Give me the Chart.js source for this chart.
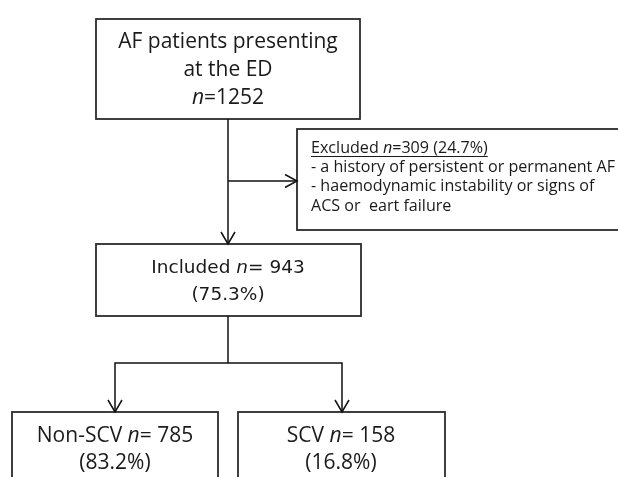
<!DOCTYPE html>
<html>
<head>
<meta charset="utf-8">
<script src="https://cdn.jsdelivr.net/npm/chart.js@4/dist/chart.umd.min.js"></script>
<style>
html, body { margin: 0; padding: 0; background: #fff; }
canvas { display: block; }
</style>
</head>
<body>
<canvas id="flujo" width="618" height="477"></canvas>
<script>
// numeros de la cohorte
var etapas = ['AF patients presenting', 'Excluded', 'Included', 'Non-SCV', 'SCV'];
var pacientes = [1252, 309, 943, 785, 158];
var porcentajes = [null, '24.7%', '75.3%', '83.2%', '16.8%'];
var subtitulo = 'at the ED';
var motivosExclusion = [
    '- a history of persistent or permanent AF',
    '- haemodynamic instability or signs of',
    'ACS or  eart failure'
];

// posicion de las cajas (unidades de la escala, 0..618 x 0..477)
var cajas = {
    inicio:    { x0: 96,  y0: 19,  x1: 360, y1: 119 },
    excluidos: { x0: 297, y0: 129, x1: 630, y1: 230 },
    incluidos: { x0: 96,  y0: 244, x1: 361, y1: 316 },
    noScv:     { x0: 12,  y0: 412, x1: 218, y1: 495 },
    scv:       { x0: 238, y0: 412, x1: 445, y1: 495 }
};

var CALIBRI = '"Open Sans", "Noto Sans", sans-serif';
var SEGOE = '"DejaVu Sans", sans-serif';

function textoRico(ctx, partes, x, y, size, familia, alinear) {
    var total = 0;
    partes.forEach(p => {
        ctx.font = (p.i ? 'italic ' : '') + size + 'px ' + familia;
        p.w = ctx.measureText(p.t).width;
        total += p.w;
    });
    var cx = alinear === 'left' ? x : x - total / 2;
    var inicio = cx;
    ctx.textAlign = 'left';
    ctx.textBaseline = 'alphabetic';
    partes.forEach(p => {
        ctx.font = (p.i ? 'italic ' : '') + size + 'px ' + familia;
        ctx.fillText(p.t, cx, y);
        cx += p.w;
    });
    return { x: inicio, w: total };
}

var dibujarFlujo = {
    id: 'dibujarFlujo',
    afterDraw: function(chart) {
        var ctx = chart.ctx;
        var sx = chart.scales.x, sy = chart.scales.y;
        var px = v => sx.getPixelForValue(v);
        var py = v => sy.getPixelForValue(v);

        ctx.save();
        // cajas
        ctx.strokeStyle = '#2b2b2b';
        ctx.lineWidth = 1.8;
        Object.keys(cajas).forEach(k => {
            var c = cajas[k];
            ctx.strokeRect(px(c.x0), py(c.y0), px(c.x1) - px(c.x0), py(c.y1) - py(c.y0));
        });

        // conectores
        var xc = 228;
        ctx.strokeStyle = '#111';
        ctx.lineWidth = 1.5;
        function linea(pts) {
            ctx.beginPath();
            ctx.moveTo(px(pts[0][0]), py(pts[0][1]));
            for (var i = 1; i < pts.length; i++) ctx.lineTo(px(pts[i][0]), py(pts[i][1]));
            ctx.stroke();
        }
        function flechaAbajo(x, y) {
            linea([[x - 7, y - 12], [x, y], [x + 7, y - 12]]);
        }
        function flechaDerecha(x, y) {
            linea([[x - 12, y - 6.5], [x, y], [x - 12, y + 6.5]]);
        }
        linea([[xc, cajas.inicio.y1], [xc, cajas.incluidos.y0]]);
        flechaAbajo(xc, cajas.incluidos.y0);
        linea([[xc, 181], [cajas.excluidos.x0, 181]]);
        flechaDerecha(cajas.excluidos.x0, 181);

        var xIzq = 115, xDer = 342, yRama = 363;
        linea([[xc, cajas.incluidos.y1], [xc, yRama]]);
        linea([[xIzq, cajas.noScv.y0], [xIzq, yRama], [xDer, yRama], [xDer, cajas.scv.y0]]);
        flechaAbajo(xIzq, cajas.noScv.y0);
        flechaAbajo(xDer, cajas.scv.y0);

        // textos
        ctx.fillStyle = '#1a1a1a';
        var tam = 21;
        textoRico(ctx, [{ t: etapas[0] }], px(228), py(48), tam, CALIBRI);
        textoRico(ctx, [{ t: subtitulo }], px(228), py(76), tam, CALIBRI);
        textoRico(ctx, [{ t: 'n', i: true }, { t: '=' + pacientes[0] }], px(228), py(104), tam, CALIBRI);

        // excluidos
        var tamE = 16.1;
        var r = textoRico(ctx, [{ t: etapas[1] + ' ' }, { t: 'n', i: true }, { t: '=' + pacientes[1] + ' (' + porcentajes[1] + ')' }],
            px(311), py(153), tamE, CALIBRI, 'left');
        ctx.lineWidth = 1;
        ctx.strokeStyle = '#1a1a1a';
        ctx.beginPath();
        ctx.moveTo(r.x, py(156.5));
        ctx.lineTo(r.x + r.w, py(156.5));
        ctx.stroke();
        motivosExclusion.forEach((m, i) => {
            textoRico(ctx, [{ t: m }], px(311), py(172 + i * 19.3), tamE, CALIBRI, 'left');
        });

        // incluidos
        textoRico(ctx, [{ t: etapas[2] + ' ' }, { t: 'n', i: true }, { t: '= ' + pacientes[2] }], px(228), py(273), 18.5, SEGOE);
        textoRico(ctx, [{ t: '(' + porcentajes[2] + ')' }], px(228), py(300), 18.5, SEGOE);

        // ramas
        textoRico(ctx, [{ t: etapas[3] + ' ' }, { t: 'n', i: true }, { t: '= ' + pacientes[3] }], px(115), py(442), tam, CALIBRI);
        textoRico(ctx, [{ t: '(' + porcentajes[3] + ')' }], px(115), py(469), tam, CALIBRI);
        textoRico(ctx, [{ t: etapas[4] + ' ' }, { t: 'n', i: true }, { t: '= ' + pacientes[4] }], px(341), py(442), tam, CALIBRI);
        textoRico(ctx, [{ t: '(' + porcentajes[4] + ')' }], px(341), py(469), tam, CALIBRI);
        ctx.restore();
    }
};

var ctx = document.getElementById('flujo').getContext('2d');
var grafica = new Chart(ctx, {
    type: 'scatter',
    data: {
        datasets: [{
            label: 'etapas',
            data: [],
            pointRadius: 0
        }]
    },
    options: {
        responsive: false,
        animation: false,
        layout: { padding: 0 },
        plugins: {
            legend: { display: false },
            tooltip: { enabled: false }
        },
        scales: {
            x: { type: 'linear', min: 0, max: 618, display: false },
            y: { type: 'linear', min: 0, max: 477, reverse: true, display: false }
        }
    },
    plugins: [dibujarFlujo]
});
</script>
</body>
</html>
